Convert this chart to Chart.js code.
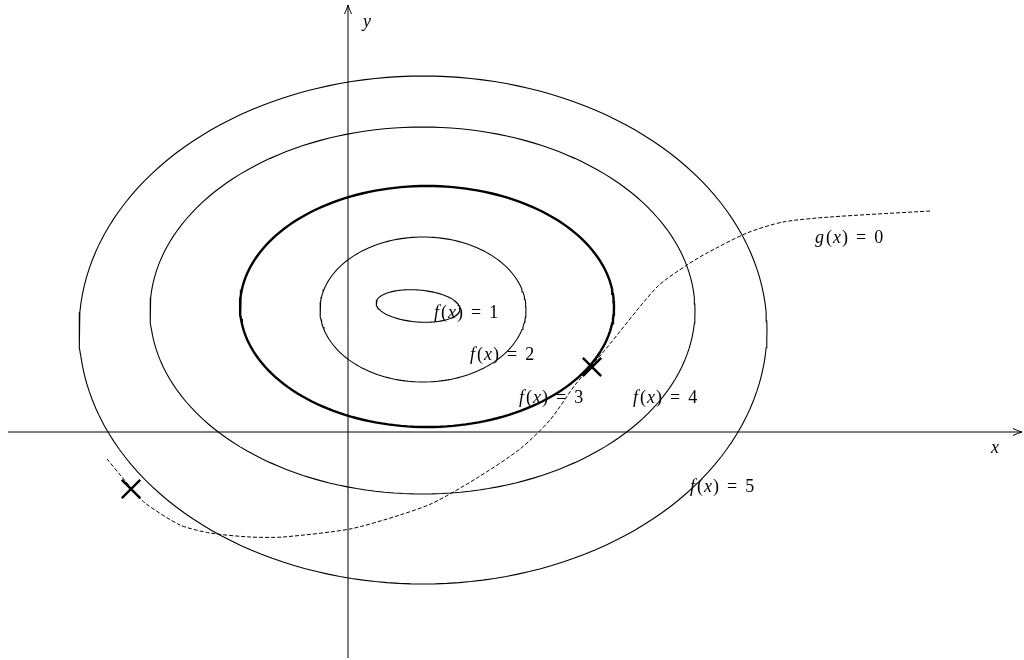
<!DOCTYPE html>
<html>
<head>
<meta charset="utf-8">
<script src="https://cdn.jsdelivr.net/npm/chart.js@4/dist/chart.umd.min.js"></script>
<style>
  html, body { margin: 0; padding: 0; background: #fff; }
  #wrap { width: 1024px; height: 660px; position: relative; }
</style>
</head>
<body>
<div id="wrap"><canvas id="chart"></canvas></div>
<script>
// contour ellipses f(x) = 1..5 (centre, half axes, tilt)
const levels = [1, 2, 3, 4, 5];
const centerX = [70, 75, 79, 74.5, 75];
const centerY = [126, 122.5, 125.5, 121.5, 102];
const radiusX = [42, 103, 187, 272.5, 344];
const radiusY = [16, 72.5, 120.5, 183.5, 254];
const tilt = [-0.08, 0, 0, 0, 0];
const thickLevel = 3;

// constraint curve g(x) = 0
const curveX = [-241, -216, -203, -168, -138, -98, -65, 2, 52, 85, 129, 172, 202, 227, 244, 257, 309, 339, 359, 399, 435, 482, 582];
const curveY = [-27, -57, -71, -93, -101, -105, -105, -97, -83, -71, -46, -17, 12, 47, 67, 82, 145, 167, 179, 199, 210, 215, 221];

// crossing points marked with an X
const markX = [244, -217];
const markY = [65, -57];

// text labels
const labelText = ['f(x) = 1', 'f(x) = 2', 'f(x) = 3', 'f(x) = 4', 'f(x) = 5', 'g(x) = 0'];
const labelX = [86, 122, 171, 285, 342, 467];
const labelY = [119, 77, 34, 34, -55, 194];

const xMin = -348, xMax = 676, yMin = -228, yMax = 432;

function ellipsePoints(i) {
  const pts = [];
  const n = 180;
  for (let k = 0; k <= n; k++) {
    const t = (k / n) * Math.PI * 2;
    const ex = radiusX[i] * Math.cos(t);
    const ey = radiusY[i] * Math.sin(t);
    pts.push({
      x: centerX[i] + ex * Math.cos(tilt[i]) - ey * Math.sin(tilt[i]),
      y: centerY[i] + ex * Math.sin(tilt[i]) + ey * Math.cos(tilt[i])
    });
  }
  return pts;
}

const datasets = levels.map((lv, i) => ({
  label: 'f = ' + lv,
  data: ellipsePoints(i),
  showLine: true,
  borderColor: '#000',
  borderWidth: lv === thickLevel ? 2.4 : 1.1,
  pointRadius: 0,
  tension: 0
}));

datasets.push({
  label: 'g = 0',
  data: curveX.map((x, i) => ({ x: x, y: curveY[i] })),
  showLine: true,
  borderColor: '#000',
  borderWidth: 1,
  borderDash: [4, 2],
  pointRadius: 0,
  tension: 0.25
});

datasets.push({
  label: 'marks',
  data: markX.map((x, i) => ({ x: x, y: markY[i] })),
  showLine: false,
  pointStyle: 'crossRot',
  pointRadius: 13,
  borderColor: '#000',
  borderWidth: 2.4
});

// axes with arrows, and the italic labels
const drawExtras = {
  id: 'drawExtras',
  afterDatasetsDraw(chart) {
    const ctx = chart.ctx;
    const xs = chart.scales.x, ys = chart.scales.y;
    const ox = xs.getPixelForValue(0), oy = ys.getPixelForValue(0);
    ctx.save();
    ctx.strokeStyle = '#000';
    ctx.lineWidth = 1;
    // x axis
    ctx.beginPath();
    ctx.moveTo(xs.getPixelForValue(-340), oy);
    ctx.lineTo(xs.getPixelForValue(674), oy);
    ctx.stroke();
    const ax = xs.getPixelForValue(674);
    ctx.beginPath();
    ctx.moveTo(ax - 9, oy - 3.5);
    ctx.quadraticCurveTo(ax - 4, oy - 1, ax, oy);
    ctx.quadraticCurveTo(ax - 4, oy + 1, ax - 9, oy + 3.5);
    ctx.stroke();
    // y axis
    const ay = ys.getPixelForValue(427);
    ctx.beginPath();
    ctx.moveTo(ox, ys.getPixelForValue(-226));
    ctx.lineTo(ox, ay);
    ctx.stroke();
    ctx.beginPath();
    ctx.moveTo(ox - 3.5, ay + 9);
    ctx.quadraticCurveTo(ox - 1, ay + 4, ox, ay);
    ctx.quadraticCurveTo(ox + 1, ay + 4, ox + 3.5, ay + 9);
    ctx.stroke();

    ctx.fillStyle = '#000';
    ctx.textBaseline = 'middle';
    const ital = 'italic 18px "Liberation Serif"';
    const roman = '18px "Liberation Serif"';
    function piece(txt, font, x, y) {
      ctx.font = font;
      ctx.fillText(txt, x, y);
      return x + ctx.measureText(txt).width;
    }
    labelText.forEach((t, i) => {
      let x = xs.getPixelForValue(labelX[i]);
      const y = ys.getPixelForValue(labelY[i]);
      x = piece(t[0], ital, x, y) + 2;
      x = piece('(', roman, x, y) + 1;
      x = piece('x', ital, x, y) + 1;
      x = piece(')', roman, x, y) + 8;
      x = piece('=', roman, x, y) + 8;
      piece(t.slice(-1), roman, x, y);
    });
    piece('x', ital, xs.getPixelForValue(643), ys.getPixelForValue(-16));
    piece('y', ital, xs.getPixelForValue(15), ys.getPixelForValue(410));
    ctx.restore();
  }
};

new Chart(document.getElementById('chart'), {
  type: 'scatter',
  data: { datasets: datasets },
  options: {
    responsive: true,
    maintainAspectRatio: false,
    animation: false,
    layout: { padding: 0, autoPadding: false },
    plugins: { legend: { display: false }, tooltip: { enabled: false } },
    scales: {
      x: { type: 'linear', min: xMin, max: xMax, display: false },
      y: { type: 'linear', min: yMin, max: yMax, display: false }
    }
  },
  plugins: [drawExtras]
});
</script>
</body>
</html>
